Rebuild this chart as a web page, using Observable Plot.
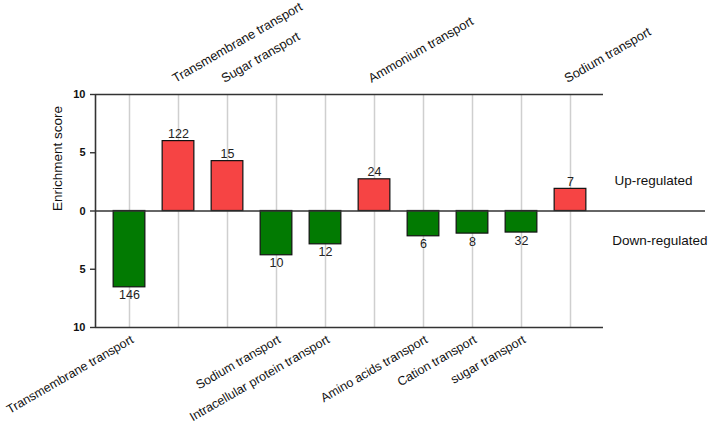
<!DOCTYPE html>
<html>
<head>
<meta charset="utf-8">
<script src="https://cdn.jsdelivr.net/npm/d3@7"></script>
<script src="https://cdn.jsdelivr.net/npm/@observablehq/plot@0.6"></script>
<style>
  html, body { margin: 0; padding: 0; background: #fff; }
  #chart { width: 709px; height: 422px; }
</style>
</head>
<body>
<div id="chart"></div>
<script>
const categories = [
  "Transmembrane transport", "Transmembrane transport", "Sugar transport",
  "Sodium transport", "Intracellular protein transport", "Ammonium transport",
  "Amino acids transport", "Cation transport", "sugar transport", "Sodium transport"
];
const scores = [-6.55, 6.0, 4.28, -3.8, -2.86, 2.72, -2.17, -1.94, -1.85, 1.9];
const counts = [146, 122, 15, 10, 12, 24, 6, 8, 32, 7];
const yTicks = [-10, -5, 0, 5, 10];
const sideLabels = ["Up-regulated", "Down-regulated"];

const data = categories.map((c, i) => ({ i, category: c, score: scores[i], count: counts[i], up: scores[i] > 0 }));
const up = data.filter(d => d.up);
const down = data.filter(d => !d.up);

const xLeft = -0.694, xAxisRight = 9.673, xRight = 11.755, halfW = 0.3235;
const axisColor = "#333";
const font = "Liberation Sans, Arial, sans-serif";

const chart = Plot.plot({
  width: 709,
  height: 422,
  marginLeft: 95,
  marginRight: 4,
  marginTop: 94,
  marginBottom: 95,
  style: { fontFamily: font, background: "#fff", overflow: "visible" },
  x: { type: "linear", domain: [xLeft, xRight], axis: null },
  y: { domain: [-10, 10], axis: null },
  marks: [
    Plot.ruleX(data, { x: "i", y1: -10, y2: 10, stroke: "#cfcfcf", strokeWidth: 1.5 }),
    Plot.rectY(data, {
      x1: d => d.i - halfW, x2: d => d.i + halfW, y1: 0, y2: "score",
      fill: d => d.up ? "#f64444" : "#027a02", stroke: "#111", strokeWidth: 1.2
    }),
    Plot.ruleY([10, -10], { x1: xLeft, x2: xAxisRight, stroke: axisColor, strokeWidth: 1.6 }),
    Plot.ruleY([0], { x1: xLeft, x2: xRight, stroke: axisColor, strokeWidth: 1.4 }),
    Plot.ruleX([xLeft], { y1: -10, y2: 10, stroke: axisColor, strokeWidth: 1.6 }),
    Plot.axisY({
      ticks: yTicks, tickFormat: d => Math.abs(d), tickSize: 5, tickPadding: 5,
      fontWeight: "bold", fontSize: 11, stroke: axisColor, strokeWidth: 1.4, label: null, fill: "#111"
    }),
    Plot.text(["Enrichment score"], {
      frameAnchor: "left", dx: -38, rotate: -90, fontSize: 13.5, fill: "#111"
    }),
    Plot.text(up, { x: "i", y: "score", text: d => String(d.count), dy: -7, fontSize: 12.5, fill: "#222" }),
    Plot.text(down, { x: "i", y: "score", text: d => String(d.count), dy: 8, fontSize: 12.5, fill: "#222" }),
    Plot.text(up, { x: "i", y: 10, text: "category", rotate: -30, textAnchor: "start", dx: -5, dy: -15, fontSize: 12.8, fill: "#111" }),
    Plot.text(down, { x: "i", y: -10, text: "category", rotate: -30, textAnchor: "end", dx: 3, dy: 11, fontSize: 12.5, fill: "#111" }),
    Plot.text([sideLabels[0]], { frameAnchor: "right", textAnchor: "end", dx: -13, dy: -30, fontSize: 13.5, fill: "#111" }),
    Plot.text([sideLabels[1]], { frameAnchor: "right", textAnchor: "end", dx: 2, dy: 30, fontSize: 13.5, fill: "#111" })
  ]
});
document.getElementById("chart").appendChild(chart);
</script>
</body>
</html>
